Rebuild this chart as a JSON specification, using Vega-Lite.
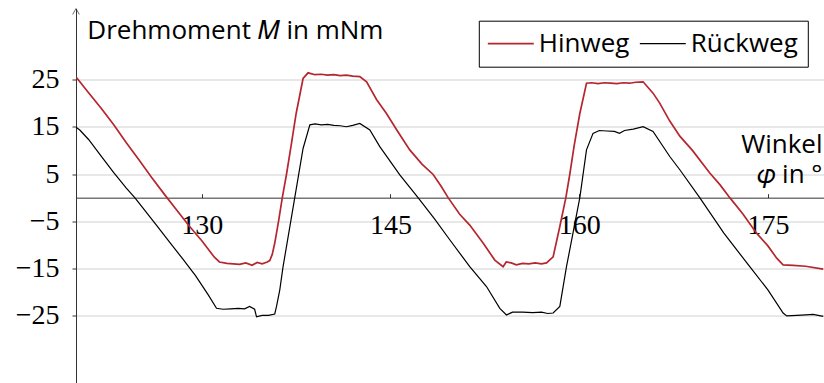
{
  "$schema": "https://vega.github.io/schema/vega-lite/v6.json",
  "width": 748,
  "height": 375,
  "autosize": {"type": "none"},
  "padding": {"left": 76, "top": 8.5, "right": 0, "bottom": 0},
  "background": "white",
  "config": {"view": {"stroke": null}},
  "datasets": {
    "curves": [
      {"series": "Hinweg", "x": 120.0, "M": 25.5},
      {"series": "Hinweg", "x": 120.1, "M": 25.2},
      {"series": "Hinweg", "x": 121, "M": 22.2},
      {"series": "Hinweg", "x": 122, "M": 18.9},
      {"series": "Hinweg", "x": 123, "M": 15.4},
      {"series": "Hinweg", "x": 124, "M": 11.6},
      {"series": "Hinweg", "x": 125, "M": 8.0},
      {"series": "Hinweg", "x": 126, "M": 4.3},
      {"series": "Hinweg", "x": 127, "M": 0.8},
      {"series": "Hinweg", "x": 128, "M": -2.6},
      {"series": "Hinweg", "x": 129, "M": -6.0},
      {"series": "Hinweg", "x": 130, "M": -9.1},
      {"series": "Hinweg", "x": 131, "M": -12.6},
      {"series": "Hinweg", "x": 131.4, "M": -13.6},
      {"series": "Hinweg", "x": 132, "M": -13.9},
      {"series": "Hinweg", "x": 132.5, "M": -14.0},
      {"series": "Hinweg", "x": 133, "M": -14.1},
      {"series": "Hinweg", "x": 133.5, "M": -13.8},
      {"series": "Hinweg", "x": 134, "M": -14.3},
      {"series": "Hinweg", "x": 134.4, "M": -13.7},
      {"series": "Hinweg", "x": 134.8, "M": -14.0},
      {"series": "Hinweg", "x": 135.2, "M": -13.6},
      {"series": "Hinweg", "x": 135.4, "M": -13.3},
      {"series": "Hinweg", "x": 135.6, "M": -12.0},
      {"series": "Hinweg", "x": 135.8, "M": -9.6},
      {"series": "Hinweg", "x": 136.1, "M": -5.0},
      {"series": "Hinweg", "x": 136.4, "M": 0},
      {"series": "Hinweg", "x": 136.73, "M": 4.9},
      {"series": "Hinweg", "x": 137.1, "M": 11.0},
      {"series": "Hinweg", "x": 137.5, "M": 17.8},
      {"series": "Hinweg", "x": 138.05, "M": 25.2},
      {"series": "Hinweg", "x": 138.45, "M": 26.4},
      {"series": "Hinweg", "x": 139, "M": 26.0},
      {"series": "Hinweg", "x": 139.5, "M": 26.1},
      {"series": "Hinweg", "x": 140, "M": 25.9},
      {"series": "Hinweg", "x": 140.5, "M": 26.0},
      {"series": "Hinweg", "x": 141, "M": 25.8},
      {"series": "Hinweg", "x": 141.5, "M": 25.9},
      {"series": "Hinweg", "x": 142, "M": 25.7},
      {"series": "Hinweg", "x": 142.56, "M": 25.6},
      {"series": "Hinweg", "x": 143.1, "M": 24.5},
      {"series": "Hinweg", "x": 143.9, "M": 20.7},
      {"series": "Hinweg", "x": 144.68, "M": 17.8},
      {"series": "Hinweg", "x": 145.5, "M": 14.3},
      {"series": "Hinweg", "x": 146.53, "M": 10.1},
      {"series": "Hinweg", "x": 147.5, "M": 7.1},
      {"series": "Hinweg", "x": 148.39, "M": 4.9},
      {"series": "Hinweg", "x": 149, "M": 2.5},
      {"series": "Hinweg", "x": 149.58, "M": 0},
      {"series": "Hinweg", "x": 150.5, "M": -3.5},
      {"series": "Hinweg", "x": 151.3, "M": -5.8},
      {"series": "Hinweg", "x": 152.36, "M": -9.6},
      {"series": "Hinweg", "x": 153.29, "M": -13.2},
      {"series": "Hinweg", "x": 153.95, "M": -14.6},
      {"series": "Hinweg", "x": 154.2, "M": -13.6},
      {"series": "Hinweg", "x": 154.6, "M": -13.8},
      {"series": "Hinweg", "x": 155, "M": -14.2},
      {"series": "Hinweg", "x": 155.5, "M": -13.9},
      {"series": "Hinweg", "x": 156, "M": -14.0},
      {"series": "Hinweg", "x": 156.5, "M": -13.8},
      {"series": "Hinweg", "x": 157, "M": -14.0},
      {"series": "Hinweg", "x": 157.4, "M": -13.8},
      {"series": "Hinweg", "x": 157.93, "M": -12.5},
      {"series": "Hinweg", "x": 158.46, "M": -6.1},
      {"series": "Hinweg", "x": 158.94, "M": 0},
      {"series": "Hinweg", "x": 159.25, "M": 4.9},
      {"series": "Hinweg", "x": 159.6, "M": 11.0},
      {"series": "Hinweg", "x": 160.05, "M": 17.8},
      {"series": "Hinweg", "x": 160.58, "M": 24.2},
      {"series": "Hinweg", "x": 161, "M": 24.3},
      {"series": "Hinweg", "x": 161.5, "M": 24.1},
      {"series": "Hinweg", "x": 162, "M": 24.3},
      {"series": "Hinweg", "x": 162.5, "M": 24.2},
      {"series": "Hinweg", "x": 163, "M": 24.1},
      {"series": "Hinweg", "x": 163.5, "M": 24.3},
      {"series": "Hinweg", "x": 164, "M": 24.2},
      {"series": "Hinweg", "x": 164.5, "M": 24.4},
      {"series": "Hinweg", "x": 165.08, "M": 24.5},
      {"series": "Hinweg", "x": 165.87, "M": 22.1},
      {"series": "Hinweg", "x": 166.4, "M": 20.0},
      {"series": "Hinweg", "x": 167.2, "M": 16.2},
      {"series": "Hinweg", "x": 168.0, "M": 13.0},
      {"series": "Hinweg", "x": 169, "M": 10.0},
      {"series": "Hinweg", "x": 170.38, "M": 5.2},
      {"series": "Hinweg", "x": 171.2, "M": 2.7},
      {"series": "Hinweg", "x": 171.97, "M": 0},
      {"series": "Hinweg", "x": 173, "M": -3.4},
      {"series": "Hinweg", "x": 174.1, "M": -7.5},
      {"series": "Hinweg", "x": 175, "M": -10.2},
      {"series": "Hinweg", "x": 175.7, "M": -12.8},
      {"series": "Hinweg", "x": 176.21, "M": -14.2},
      {"series": "Hinweg", "x": 177, "M": -14.3},
      {"series": "Hinweg", "x": 178, "M": -14.5},
      {"series": "Hinweg", "x": 179.4, "M": -15.1},
      {"series": "Rückweg", "x": 120.0, "M": 14.9},
      {"series": "Rückweg", "x": 120.3, "M": 14.3},
      {"series": "Rückweg", "x": 121, "M": 12.3},
      {"series": "Rückweg", "x": 122, "M": 8.8},
      {"series": "Rückweg", "x": 123, "M": 5.3},
      {"series": "Rückweg", "x": 124, "M": 2.0},
      {"series": "Rückweg", "x": 124.67, "M": 0},
      {"series": "Rückweg", "x": 125.5, "M": -2.8},
      {"series": "Rückweg", "x": 126.5, "M": -6.2},
      {"series": "Rückweg", "x": 127.5, "M": -9.6},
      {"series": "Rückweg", "x": 128.5, "M": -13.0},
      {"series": "Rückweg", "x": 129.5, "M": -16.5},
      {"series": "Rückweg", "x": 130.5, "M": -20.5},
      {"series": "Rückweg", "x": 131.17, "M": -23.4},
      {"series": "Rückweg", "x": 131.7, "M": -23.6},
      {"series": "Rückweg", "x": 132.3, "M": -23.5},
      {"series": "Rückweg", "x": 132.9, "M": -23.4},
      {"series": "Rückweg", "x": 133.4, "M": -23.5},
      {"series": "Rückweg", "x": 133.8, "M": -23.0},
      {"series": "Rückweg", "x": 134.2, "M": -23.6},
      {"series": "Rückweg", "x": 134.35, "M": -25.2},
      {"series": "Rückweg", "x": 134.8, "M": -24.9},
      {"series": "Rückweg", "x": 135.3, "M": -24.9},
      {"series": "Rückweg", "x": 135.8, "M": -24.6},
      {"series": "Rückweg", "x": 135.94, "M": -23.0},
      {"series": "Rückweg", "x": 136.2, "M": -19.5},
      {"series": "Rückweg", "x": 136.46, "M": -14.6},
      {"series": "Rückweg", "x": 137.39, "M": 0},
      {"series": "Rückweg", "x": 138.05, "M": 10.4},
      {"series": "Rückweg", "x": 138.59, "M": 15.4},
      {"series": "Rückweg", "x": 139, "M": 15.6},
      {"series": "Rückweg", "x": 139.5, "M": 15.4},
      {"series": "Rückweg", "x": 140, "M": 15.5},
      {"series": "Rückweg", "x": 140.5, "M": 15.3},
      {"series": "Rückweg", "x": 141, "M": 15.2},
      {"series": "Rückweg", "x": 141.5, "M": 15.0},
      {"series": "Rückweg", "x": 142, "M": 15.3},
      {"series": "Rückweg", "x": 142.56, "M": 15.7},
      {"series": "Rückweg", "x": 143.36, "M": 14.3},
      {"series": "Rückweg", "x": 144.15, "M": 10.8},
      {"series": "Rückweg", "x": 145.74, "M": 4.8},
      {"series": "Rückweg", "x": 147.19, "M": 0},
      {"series": "Rückweg", "x": 148.5, "M": -4.5},
      {"series": "Rückweg", "x": 149.71, "M": -8.9},
      {"series": "Rückweg", "x": 151.3, "M": -14.6},
      {"series": "Rückweg", "x": 152.63, "M": -18.8},
      {"series": "Rückweg", "x": 153.69, "M": -23.4},
      {"series": "Rückweg", "x": 154.22, "M": -24.8},
      {"series": "Rückweg", "x": 154.7, "M": -24.2},
      {"series": "Rückweg", "x": 155.5, "M": -24.2},
      {"series": "Rückweg", "x": 156.3, "M": -24.3},
      {"series": "Rückweg", "x": 157, "M": -24.2},
      {"series": "Rückweg", "x": 157.5, "M": -24.5},
      {"series": "Rückweg", "x": 157.93, "M": -24.4},
      {"series": "Rückweg", "x": 158.46, "M": -23.0},
      {"series": "Rückweg", "x": 158.99, "M": -14.6},
      {"series": "Rückweg", "x": 160.05, "M": 0},
      {"series": "Rückweg", "x": 160.58, "M": 10.1},
      {"series": "Rückweg", "x": 161.1, "M": 13.6},
      {"series": "Rückweg", "x": 161.6, "M": 14.2},
      {"series": "Rückweg", "x": 162.2, "M": 14.1},
      {"series": "Rückweg", "x": 162.8, "M": 14.0},
      {"series": "Rückweg", "x": 163.2, "M": 13.6},
      {"series": "Rückweg", "x": 163.6, "M": 14.2},
      {"series": "Rückweg", "x": 164.3, "M": 14.5},
      {"series": "Rückweg", "x": 165.08, "M": 15.0},
      {"series": "Rückweg", "x": 165.87, "M": 14.0},
      {"series": "Rückweg", "x": 167.2, "M": 8.7},
      {"series": "Rückweg", "x": 168.0, "M": 5.9},
      {"series": "Rückweg", "x": 169.58, "M": 0},
      {"series": "Rückweg", "x": 171.5, "M": -7.5},
      {"series": "Rückweg", "x": 173.56, "M": -14.6},
      {"series": "Rückweg", "x": 175, "M": -19.5},
      {"series": "Rückweg", "x": 176.21, "M": -24.4},
      {"series": "Rückweg", "x": 176.5, "M": -25.0},
      {"series": "Rückweg", "x": 177.3, "M": -24.9},
      {"series": "Rückweg", "x": 178, "M": -24.8},
      {"series": "Rückweg", "x": 178.6, "M": -24.7},
      {"series": "Rückweg", "x": 179.4, "M": -25.1}
    ],
    "arrow": [{"x": 120, "M": 40}]
  },
  "layer": [
    {
      "data": {"name": "curves"},
      "mark": {"type": "line", "clip": true},
      "encoding": {
        "x": {
          "field": "x", "type": "quantitative",
          "scale": {"domain": [120, 179.46], "nice": false, "zero": false},
          "axis": {
            "orient": "bottom", "offset": -185.84,
            "values": [130, 145, 160, 175],
            "tickSize": -4, "labelPadding": 18, "labelOverlap": false, "labelFlush": false,
            "labelFont": "Liberation Serif", "labelFontSize": 28, "labelColor": "black",
            "domainColor": "#333", "tickColor": "#333", "grid": false,
            "title": ["Winkel", "𝜑 in °"],
            "titleFont": "Open Sans", "titleFontSize": 26, "titleFontWeight": "normal", "titleColor": "black",
            "titleAlign": "right", "titleAnchor": "end", "titleX": 746, "titleY": -44.7,
            "titleBaseline": "alphabetic", "titleLineHeight": 30
          }
        },
        "y": {
          "field": "M", "type": "quantitative",
          "scale": {"domain": [-39.3, 40], "nice": false, "zero": false},
          "axis": {
            "values": [-25, -15, -5, 5, 15, 25],
            "grid": true, "gridColor": "#d0d0d0",
            "tickSize": 4, "labelPadding": 13, "labelOverlap": false, "labelFlush": false,
            "labelFont": "Liberation Serif", "labelFontSize": 28, "labelColor": "black",
            "domainColor": "#333", "tickColor": "#333",
            "title": "Drehmoment 𝑀 in mNm",
            "titleFont": "Open Sans", "titleFontSize": 26, "titleFontWeight": "normal", "titleColor": "black",
            "titleAngle": 0, "titleAlign": "left", "titleBaseline": "alphabetic",
            "titleX": 10.8, "titleY": 29.5
          }
        },
        "color": {
          "field": "series", "type": "nominal",
          "scale": {"domain": ["Hinweg", "Rückweg"], "range": ["#b5262f", "#000000"]},
          "legend": {
            "orient": "none", "legendX": 402.8, "legendY": 12.2, "direction": "horizontal",
            "title": null, "symbolType": "M-4,0H4", "symbolSize": 132, "symbolStrokeWidth": 1.3,
            "symbolOffset": 9,
            "labelFont": "Open Sans", "labelFontSize": 26, "labelColor": "black",
            "labelOffset": 15, "columnPadding": 7, "padding": 10,
            "strokeColor": "black", "fillColor": "white"
          }
        },
        "strokeWidth": {
          "field": "series", "type": "nominal",
          "scale": {"domain": ["Hinweg", "Rückweg"], "range": [1.7, 1.2]},
          "legend": null
        }
      }
    },
    {
      "data": {"name": "arrow"},
      "mark": {"type": "point", "shape": "M-1.1,2L0,0L1.1,2", "filled": false, "stroke": "#333", "strokeWidth": 1, "size": 36, "clip": false},
      "encoding": {
        "x": {"field": "x", "type": "quantitative"},
        "y": {"field": "M", "type": "quantitative"}
      }
    }
  ]
}
